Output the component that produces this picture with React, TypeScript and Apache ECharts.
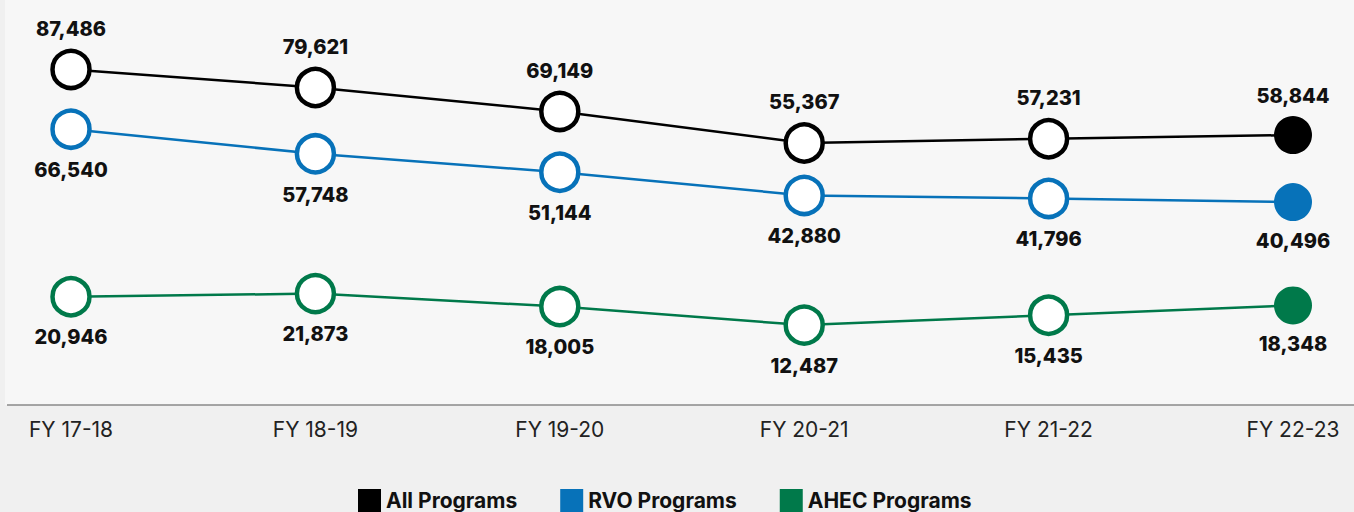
import React, { useEffect, useRef } from "react";
import * as echarts from "echarts";

const categories = ["FY 17-18", "FY 18-19", "FY 19-20", "FY 20-21", "FY 21-22", "FY 22-23"];
const allPrograms = [87486, 79621, 69149, 55367, 57231, 58844];
const rvoPrograms = [66540, 57748, 51144, 42880, 41796, 40496];
const ahecPrograms = [20946, 21873, 18005, 12487, 15435, 18348];

const seriesNames = ["All Programs", "RVO Programs", "AHEC Programs"];
const seriesColors = ["#000000", "#0772b9", "#00794a"];
const labelSides = ["top", "bottom", "bottom"];
// each series sits on its own hidden value axis (min, max)
const axisRanges = [
  [-59000, 117800],
  [-32000, 112700],
  [-11300, 109300],
];

const FONT = "Inter, 'Noto Sans', sans-serif";

export default function App() {
  const ref = useRef<HTMLDivElement>(null);
  useEffect(() => {
    if (!ref.current) return;
    const chart = echarts.init(ref.current, undefined, { renderer: "svg" });
    const dataSets = [allPrograms, rvoPrograms, ahecPrograms];
    const series = dataSets.map((values, s) => ({
      name: seriesNames[s],
      type: "line",
      yAxisIndex: s,
      symbol: "circle",
      symbolSize: 37,
      showAllSymbol: true,
      lineStyle: { color: seriesColors[s], width: 2.5 },
      itemStyle: { color: "#ffffff", borderColor: seriesColors[s], borderWidth: 4.5 },
      label: {
        show: true,
        position: labelSides[s],
        distance: 10,
        color: "#111111",
        fontFamily: FONT,
        fontWeight: 800,
        fontSize: 20,
        formatter: (p: any) => Number(p.value).toLocaleString("en-US"),
      },
      emphasis: { disabled: true },
      data: values.map((v, i) =>
        i === values.length - 1
          ? { value: v, symbolSize: 38, itemStyle: { color: seriesColors[s], borderWidth: 0 } }
          : v
      ),
    }));

    chart.setOption({
      animation: false,
      backgroundColor: "#f0f0f0",
      textStyle: { fontFamily: FONT },
      graphic: [
        {
          type: "rect",
          silent: true,
          z: -10,
          shape: { x: 5, y: 0, width: 1349, height: 405 },
          style: { fill: "#f7f7f7" },
        },
        {
          type: "line",
          silent: true,
          z: -5,
          shape: { x1: 7, y1: 405, x2: 1354, y2: 405 },
          style: { stroke: "#8a8a8a", lineWidth: 1.5 },
        },
      ],
      grid: { left: 71, right: 61, top: 0, bottom: 107, containLabel: false },
      legend: {
        left: 358,
        top: 489,
        padding: 0,
        itemGap: 43,
        itemWidth: 23,
        itemHeight: 23,
        selectedMode: false,
        textStyle: {
          fontFamily: FONT,
          fontWeight: "bold",
          fontSize: 21,
          color: "#111111",
          padding: [0, 0, 0, 0],
        },
        data: seriesNames.map((n, i) => ({
          name: n,
          icon: "rect",
          itemStyle: { color: seriesColors[i], borderWidth: 0 },
          lineStyle: { width: 0, opacity: 0 },
        })),
      },
      xAxis: {
        type: "category",
        boundaryGap: false,
        data: categories,
        axisLine: { show: false },
        axisTick: { show: false },
        axisLabel: {
          color: "#222222",
          fontFamily: FONT,
          fontSize: 21,
          margin: 14,
        },
      },
      yAxis: axisRanges.map((r) => ({
        type: "value",
        min: r[0],
        max: r[1],
        show: false,
        splitLine: { show: false },
      })),
      series,
    });
    return () => chart.dispose();
  }, []);
  return (
    <div
      ref={ref}
      style={{ position: "fixed", left: 0, top: 0, width: 1354, height: 512, background: "#f0f0f0" }}
    />
  );
}
